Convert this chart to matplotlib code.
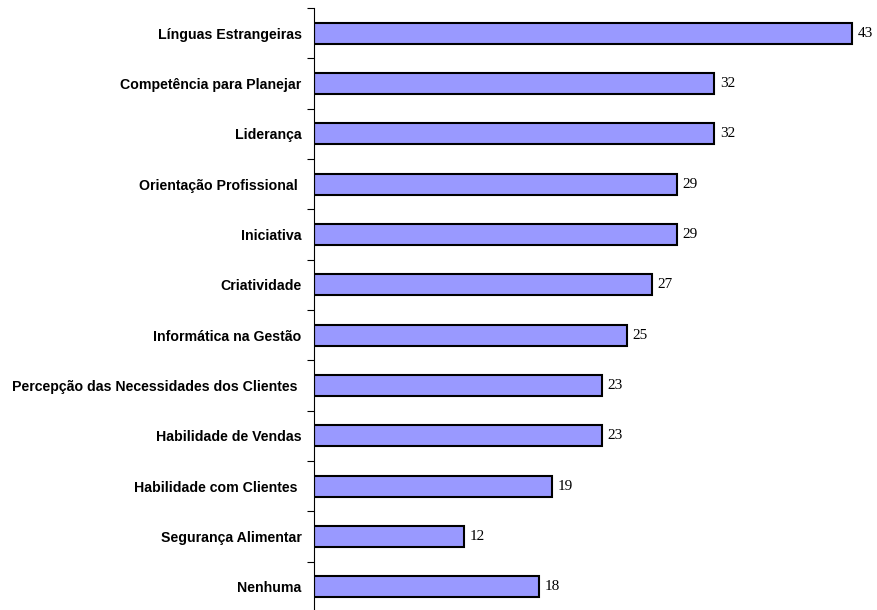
import matplotlib
matplotlib.use("Agg")
import matplotlib.pyplot as plt
import numpy as np

# categories top to bottom, with the counts
categories = [
    "Línguas Estrangeiras",
    "Competência para Planejar",
    "Liderança",
    "Orientação Profissional ",
    "Iniciativa",
    "Criatividade",
    "Informática na Gestão",
    "Percepção das Necessidades dos Clientes ",
    "Habilidade de Vendas",
    "Habilidade com Clientes ",
    "Segurança Alimentar",
    "Nenhuma",
]
counts = [43, 32, 32, 29, 29, 27, 25, 23, 23, 19, 12, 18]

BAR_COLOR = "#9999FF"

fig = plt.figure(figsize=(8.77, 6.10), dpi=100)
# axis spans roughly y=8..612 px (bottom slightly clipped, as in the source)
ax = fig.add_axes([314 / 877, -2 / 610, 1 - 314 / 877, 604 / 610])

n = len(categories)
y = np.arange(n)
ax.barh(y, counts, height=0.42, color=BAR_COLOR, edgecolor="black", linewidth=1.5)

for yi, v in zip(y, counts):
    ax.text(v + 0.45, yi, str(v), va="center", ha="left",
            family="Liberation Serif", fontsize=11)

ax.set_ylim(n - 0.5, -0.5)
ax.set_xlim(0, 45)

# ticks at category boundaries, labels at centers
ax.set_yticks(np.arange(n + 1) - 0.5)
ax.set_yticklabels([])
ax.set_yticks(y, minor=True)
ax.set_yticklabels(categories, minor=True, family="Liberation Sans",
                   fontweight="bold", fontsize=10.2)
ax.tick_params(axis="y", which="major", length=5, width=0.8, direction="out")
ax.tick_params(axis="y", which="minor", length=0, pad=9)
ax.set_xticks([])

for s in ("top", "right", "bottom"):
    ax.spines[s].set_visible(False)
ax.spines["left"].set_linewidth(0.8)

fig.savefig("out.png", dpi=100)
